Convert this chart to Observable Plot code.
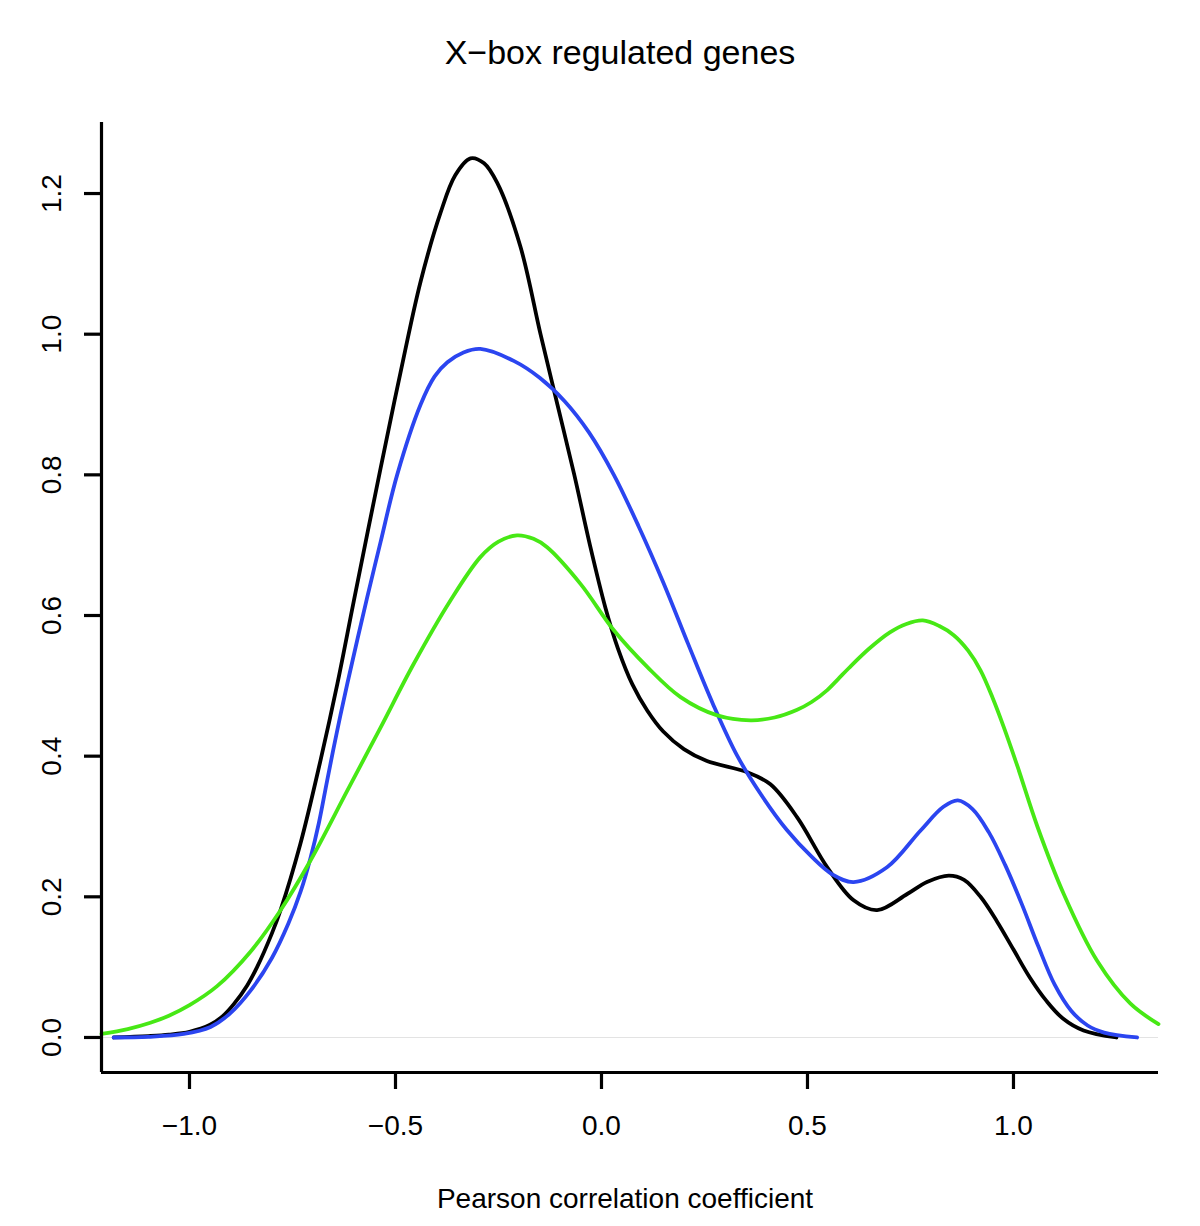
<!DOCTYPE html>
<html>
<head>
<meta charset="utf-8">
<script src="https://cdn.jsdelivr.net/npm/d3@7"></script>
<script src="https://cdn.jsdelivr.net/npm/@observablehq/plot@0.6"></script>
<style>
  body { margin: 0; background: #fff; color: #000; }
</style>
</head>
<body>
<div id="chart"></div>
<script>
const titleText = "X\u2212box regulated genes";
const xLabel = "Pearson correlation coefficient";
const xDomain = [-1.2136, 1.352];
const yDomain = [-0.0498, 1.301];
const xTicks = [-1, -0.5, 0, 0.5, 1];
const yTicks = [0, 0.2, 0.4, 0.6, 0.8, 1.0, 1.2];

const blackX = [-1.184, -1.10, -1.05, -1.0, -0.95, -0.92, -0.893, -0.86, -0.836, -0.80, -0.779, -0.731, -0.682, -0.641, -0.601, -0.536, -0.488, -0.439, -0.391, -0.355, -0.318, -0.285, -0.253, -0.197, -0.148, -0.107, -0.066, -0.028, 0.010, 0.040, 0.075, 0.111, 0.150, 0.200, 0.256, 0.354, 0.410, 0.475, 0.548, 0.612, 0.669, 0.742, 0.790, 0.843, 0.88, 0.92, 0.96, 1.00, 1.04, 1.08, 1.12, 1.17, 1.25];
const blackY = [0.0, 0.002, 0.004, 0.008, 0.018, 0.030, 0.047, 0.074, 0.100, 0.148, 0.181, 0.275, 0.394, 0.503, 0.621, 0.810, 0.945, 1.075, 1.172, 1.226, 1.250, 1.243, 1.215, 1.125, 1.0, 0.9, 0.8, 0.70, 0.610, 0.553, 0.502, 0.465, 0.435, 0.410, 0.393, 0.377, 0.360, 0.313, 0.242, 0.195, 0.181, 0.204, 0.221, 0.230, 0.224, 0.200, 0.165, 0.125, 0.085, 0.052, 0.027, 0.010, 0.0];

const blueX = [-1.184, -1.10, -1.014, -0.949, -0.90, -0.85, -0.80, -0.76, -0.73, -0.706, -0.686, -0.666, -0.642, -0.617, -0.569, -0.536, -0.496, -0.439, -0.405, -0.374, -0.335, -0.294, -0.213, -0.15, -0.09, -0.03, 0.03, 0.09, 0.15, 0.21, 0.27, 0.33, 0.39, 0.45, 0.51, 0.56, 0.612, 0.693, 0.774, 0.83, 0.865, 0.90, 0.94, 0.98, 1.02, 1.06, 1.10, 1.14, 1.18, 1.22, 1.30];
const blueY = [0.0, 0.001, 0.005, 0.015, 0.035, 0.068, 0.113, 0.162, 0.208, 0.256, 0.305, 0.365, 0.435, 0.503, 0.625, 0.705, 0.800, 0.900, 0.940, 0.960, 0.974, 0.979, 0.962, 0.938, 0.905, 0.860, 0.800, 0.727, 0.647, 0.560, 0.475, 0.400, 0.343, 0.295, 0.257, 0.232, 0.221, 0.242, 0.294, 0.328, 0.337, 0.325, 0.292, 0.245, 0.190, 0.130, 0.075, 0.038, 0.017, 0.007, 0.0];

const greenX = [-1.2136, -1.15, -1.095, -1.05, -1.00, -0.933, -0.852, -0.779, -0.706, -0.617, -0.536, -0.456, -0.367, -0.294, -0.25, -0.205, -0.165, -0.132, -0.051, 0.030, 0.111, 0.192, 0.281, 0.362, 0.42, 0.475, 0.51, 0.548, 0.575, 0.60, 0.65, 0.70, 0.74, 0.78, 0.82, 0.855, 0.89, 0.92, 0.95, 0.976, 1.01, 1.058, 1.122, 1.203, 1.284, 1.352];
const greenY = [0.005, 0.012, 0.021, 0.031, 0.046, 0.073, 0.122, 0.181, 0.252, 0.351, 0.441, 0.531, 0.621, 0.683, 0.705, 0.714, 0.709, 0.697, 0.645, 0.579, 0.527, 0.484, 0.458, 0.451, 0.455, 0.466, 0.477, 0.494, 0.510, 0.525, 0.553, 0.576, 0.588, 0.593, 0.585, 0.572, 0.550, 0.522, 0.482, 0.442, 0.385, 0.300, 0.204, 0.109, 0.048, 0.019];

const seriesNames = ["black", "blue", "green"];
const seriesColors = ["#000000", "#2b45f0", "#47e815"];

function toRows(xs, ys) { return xs.map((x, i) => ({x, y: ys[i]})); }
const tables = [toRows(blackX, blackY), toRows(blueX, blueY), toRows(greenX, greenY)];

const fmt = d3.format(".1f");

const chart = Plot.plot({
  width: 1200,
  height: 1226,
  marginLeft: 101,
  marginRight: 42,
  marginTop: 122,
  marginBottom: 154,
  style: {fontFamily: "'Liberation Sans', Arial, Helvetica, sans-serif", background: "white", color: "black"},
  x: {domain: xDomain, label: null},
  y: {domain: yDomain, label: null},
  marks: [
    Plot.ruleY([0], {stroke: "#e3e3e3", strokeWidth: 1.2}),
    ...tables.map((t, i) => Plot.line(t, {x: "x", y: "y", stroke: seriesColors[i], strokeWidth: 3.8, curve: "catmull-rom"})),
    Plot.ruleX([xDomain[0]], {stroke: "black", strokeWidth: 3.2}),
    Plot.ruleY([yDomain[0]], {stroke: "black", strokeWidth: 3.2}),
    Plot.axisX({ticks: xTicks, tickFormat: fmt, tickSize: 17, tickPadding: 26, fontSize: 28, strokeWidth: 3.2, label: null}),
    Plot.axisY({ticks: yTicks, tickFormat: fmt, tickRotate: -90, tickSize: 17, tickPadding: 24, fontSize: 28, strokeWidth: 3.2, label: null}),
    Plot.text([titleText], {text: d => d, frameAnchor: "top", dx: -10, dy: -59, lineAnchor: "bottom", fontSize: 34, fill: "black"}),
    Plot.text([xLabel], {text: d => d, frameAnchor: "bottom", dx: -5, dy: 135, lineAnchor: "bottom", fontSize: 28, fill: "black"})
  ]
});
document.getElementById("chart").appendChild(chart);
</script>
</body>
</html>
